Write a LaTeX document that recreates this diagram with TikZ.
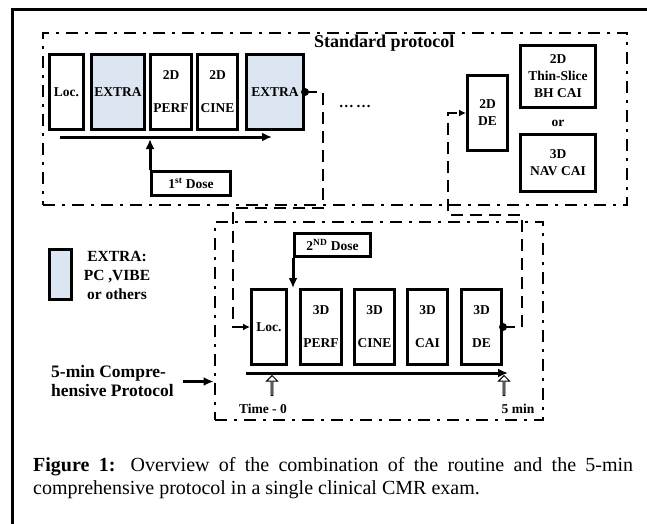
\documentclass[tikz,border=0pt]{standalone}
\usepackage{fontspec}
\setmainfont{Liberation Serif}
\usetikzlibrary{arrows.meta, shapes.arrows}

\definecolor{extrablue}{RGB}{220,230,242}

\begin{document}
\begin{tikzpicture}[x=1pt, y=-1pt]
        \useasboundingbox (0, 0) rectangle (647, 524);
        % Setup the styles for the scans, frames and arrows
        \tikzset{scan style/.style={draw,
                                    line width=3pt,
                                    minimum height=75pt,
                                    inner sep=1pt,
                                    align=center,
                                    font=\fontsize{13.5}{17}\selectfont\bfseries},
                 extra style/.style={scan style, fill=extrablue},
                 dose style/.style={draw,
                                    line width=3pt,
                                    minimum height=23.5pt,
                                    inner sep=1pt,
                                    font=\fontsize{13.5}{16}\selectfont\bfseries},
                 frame style/.style={draw,
                                     line width=2.8pt,
                                     dash pattern=on 12pt off 7pt on 3pt off 7pt,
                                     inner sep=0pt},
                 label style/.style={inner sep=1pt, align=left},
                 up style/.style={single arrow, draw, line width=1pt,
                                  shape border rotate=90,
                                  minimum height=20pt, minimum width=11pt,
                                  single arrow head extend=2.5pt,
                                  single arrow tip angle=90, inner sep=0pt},
                 flow/.style={line width=3pt, -{Latex[length=10pt, width=9pt]}},
                 link/.style={line width=2.8pt,
                              dash pattern=on 12pt off 7pt,
                              -{Latex[length=7pt, width=7pt]}}}

        % Outer frame
        \draw[line width=3pt] (12, 524) -- (12, 10) -- (647, 10);

        % Draw the protocol frames
        \node[frame style, minimum width=584pt, minimum height=172pt] at (335, 119) (stdbox) {};
        \node[frame style, minimum width=328pt, minimum height=198pt] at (379, 321) (fivebox) {};
        \node[label style, anchor=west, font=\fontsize{18}{20}\selectfont\bfseries] at (313, 43) (stdlabel) {Standard protocol};

        % Draw the standard scans
        \node[scan style, minimum width=34pt] at (66.5, 92) (loca) {Loc.};
        \node[extra style, minimum width=53pt] at (118, 92) (extraa) {EXTRA};
        \node[scan style, minimum width=41pt] at (171, 92) (perfa) {2D\\[16pt]PERF};
        \node[scan style, minimum width=40pt] at (217.5, 92) (cinea) {2D\\[16pt]CINE};
        \node[extra style, minimum width=57pt] at (275, 92) (extrab) {EXTRA};
        \node[label style, font=\fontsize{15}{17}\selectfont\bfseries] at (355, 106) (dots) {\dots\,\dots};
        \node[scan style, minimum width=40pt] at (487.5, 113) (dea) {2D\\DE};
        \node[scan style, minimum width=75pt, minimum height=62pt] at (558, 76.5) (thin) {2D\\Thin-Slice\\BH CAI};
        \node[label style, font=\fontsize{13.5}{16}\selectfont\bfseries] at (558, 123) (or) {or};
        \node[scan style, minimum width=75pt, minimum height=57pt] at (558, 163) (nav) {3D\\NAV CAI};
        \node[dose style, minimum width=79pt] at (191, 183.5) (dosea) {1\textsuperscript{st} Dose};

        % Draw the legend
        \node[draw, line width=3pt, fill=extrablue, minimum width=22pt, minimum height=50pt] at (60.5, 274.5) (key) {};
        \node[label style, align=center, font=\fontsize{15.5}{19}\selectfont\bfseries] at (117, 275) (keytext) {EXTRA:\\PC ,VIBE\\or others};
        \node[label style, anchor=west, font=\fontsize{17.5}{19}\selectfont\bfseries] at (50, 381.5) (fivelabel) {5-min Compre-\\hensive Protocol};

        % Draw the 5-min scans
        \node[dose style, minimum width=76pt, minimum height=23pt] at (332.5, 245) (doseb) {2\textsuperscript{ND} Dose};
        \node[scan style, minimum width=35pt] at (269, 327) (locb) {Loc.};
        \node[scan style, minimum width=41pt] at (321, 327) (perfb) {3D\\[16pt]PERF};
        \node[scan style, minimum width=40pt] at (374.5, 327) (cineb) {3D\\[16pt]CINE};
        \node[scan style, minimum width=40pt] at (427.5, 327) (caib) {3D\\[16pt]CAI};
        \node[scan style, minimum width=40pt] at (481.5, 327) (deb) {3D\\[16pt]DE};
        \node[label style, font=\fontsize{13.5}{16}\selectfont\bfseries] at (263, 409) (timezero) {Time - 0};
        \node[label style, font=\fontsize{13.5}{16}\selectfont\bfseries] at (518, 409) (fivemin) {5 min};
        \node[up style] at (272, 386) (up0) {};
        \node[up style] at (504, 386) (up5) {};

        % Time axes
        \coordinate (t1a) at (60, 137);
        \coordinate (t1b) at (272, 137);
        \coordinate (t2a) at (246, 373);
        \coordinate (t2b) at (508, 373);

        % Connect the scans with arrows
        \draw[flow] (t1a) -- (t1b);
        \draw[flow] (t2a) -- (t2b);
        \draw[flow, shorten >=2pt] (dosea.north west) -- (dosea.north west |- t1a);
        \draw[flow] (doseb.south west) -- (doseb.south west |- locb.north);
        \draw[flow, shorten <=8pt] (fivelabel.east) -- (fivelabel.east -| fivebox.west);
        \draw[link] (extrab.east) -- ++(18, 0) |- ++(-90, 116) |- (locb.west);
        \draw[link] (deb.east) -- ++(19, 0) |- ++(-74, -112) |- (dea.west);
        \fill (extrab.east) circle (4pt);
        \fill (deb.east) circle (4pt);

        % Caption
        \node[anchor=north west, inner sep=0pt, align=left, font=\fontsize{20}{23}\selectfont] at (33, 457) (caption)
            {\makebox[600pt][s]{\textbf{Figure 1:} Overview of the combination of the routine and the 5-min}\\
             comprehensive protocol in a single clinical CMR exam.};
\end{tikzpicture}
\end{document}
